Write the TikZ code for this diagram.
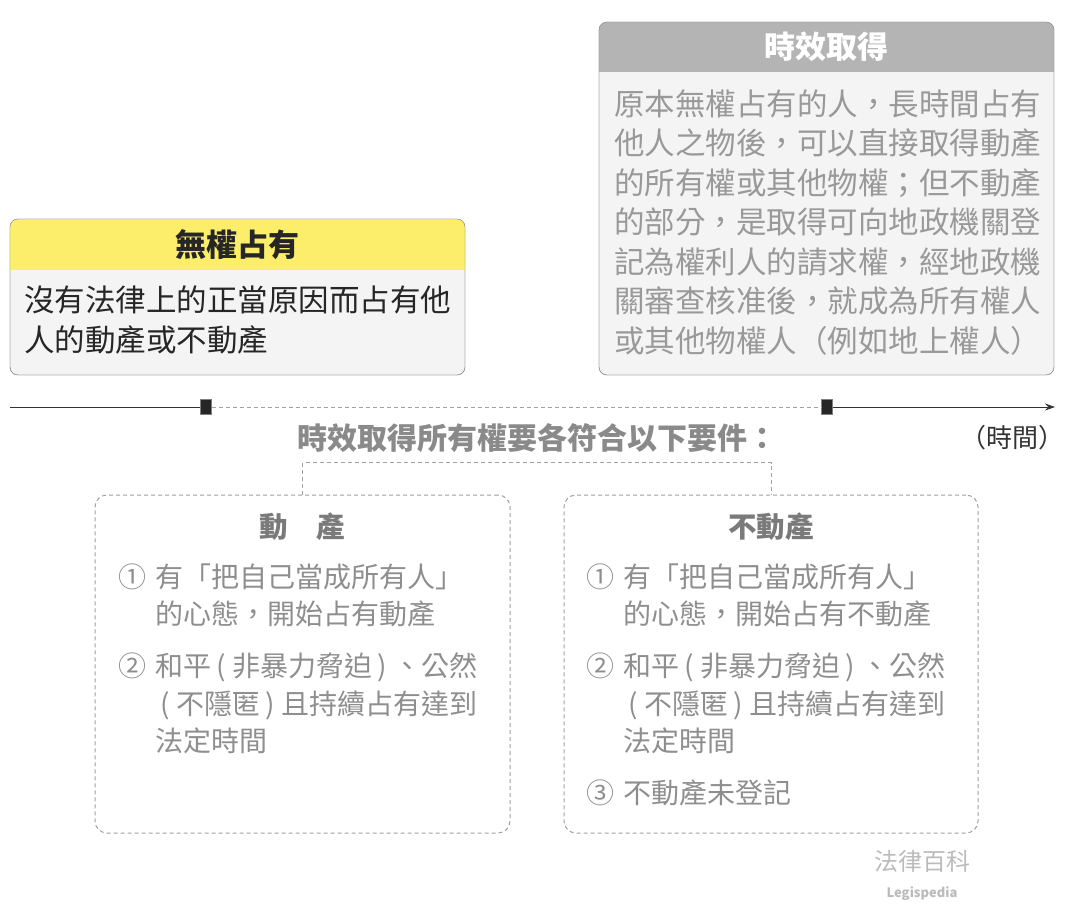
\documentclass[tikz,border=0pt]{standalone}
\usepackage{fontspec}
\setmainfont{Noto Sans CJK TC}
\usepackage{xcolor}
\usepackage{tikz}
\usetikzlibrary{positioning, arrows.meta}

\definecolor{hdyellow}{HTML}{FCEE6A}
\definecolor{hdgray}{HTML}{B4B4B4}
\definecolor{boxbg}{HTML}{F4F4F4}
\definecolor{boxline}{HTML}{8C8C8C}
\definecolor{dline}{HTML}{A0A0A0}
\definecolor{bodygray}{HTML}{999999}
\definecolor{itemgray}{HTML}{8E8E8E}
\definecolor{ttlgray}{HTML}{7A7A7A}
\definecolor{subgray}{HTML}{8A8A8A}
\definecolor{logogray}{HTML}{BBBBBB}

\newcommand{\po}{\makebox[21pt]{(}}
\newcommand{\pc}{\makebox[21pt]{)}}

\begin{document}
\begin{tikzpicture}[x=1pt,y=-1pt,
  box/.style={draw=boxline, fill=boxbg, rounded corners=8pt, inner sep=0pt, outer sep=0pt},
  dbox/.style={draw=dline, line width=1pt, dash pattern=on 4pt off 3pt, rounded corners=12pt, inner sep=0pt},
  hd/.style={font=\fontsize{31}{36}\selectfont\bfseries},
  body/.style={font=\fontsize{30.5}{39.5}\selectfont, align=left, anchor=west, inner sep=0pt},
  item/.style={font=\fontsize{28}{37.5}\selectfont, align=left, anchor=west, inner sep=0pt, text=itemgray},
  ttl/.style={font=\fontsize{28.5}{34}\selectfont\bfseries, text=ttlgray},
  tick/.style={draw=gray, fill=black!85, minimum width=11pt, minimum height=15pt, inner sep=0pt},
  tl/.style={draw=black!80, line width=1pt},
  dl/.style={draw=dline, line width=1pt, dash pattern=on 4pt off 3pt}]

\useasboundingbox (0,0) rectangle (1065,911);

\node[box, minimum width=455pt, minimum height=156pt] (wq) at (237.5,297) {};
\begin{scope}
\clip[rounded corners=8pt] (wq.south west) rectangle (wq.north east);
\fill[hdyellow] (wq.north west) rectangle ([yshift=-51pt]wq.north east);
\end{scope}
\draw[boxline, rounded corners=8pt] (wq.south west) rectangle (wq.north east);
\node[hd, text=black!85] (wqh) at ([yshift=-25.5pt]wq.north) {無權占有};
\node[body, text=black!85] (wqb) at (24,320) {沒有法律上的正當原因而占有他\\人的動產或不動產};

\node[box, minimum width=455pt, minimum height=353pt] (sx) at (826.5,198.5) {};
\begin{scope}
\clip[rounded corners=8pt] (sx.south west) rectangle (sx.north east);
\fill[hdgray] (sx.north west) rectangle ([yshift=-50pt]sx.north east);
\end{scope}
\draw[boxline, rounded corners=8pt] (sx.south west) rectangle (sx.north east);
\node[hd, text=white] (sxh) at ([yshift=-25pt]sx.north) {時效取得};
\node[body, text=bodygray] (sxb) at (614,222.5) {原本無權占有的人，長時間占有\\他人之物後，可以直接取得動產\\的所有權或其他物權；但不動產\\的部分，是取得可向地政機關登\\記為權利人的請求權，經地政機\\關審查核准後，就成為所有權人\\或其他物權人（例如地上權人）};

\coordinate (t0) at (10,407);
\coordinate (t1) at (1055,407);
\node[tick] (m1) at (206,407) {};
\node[tick] (m2) at (827,407) {};
\draw[tl] (t0) -- (m1);
\draw[dl] (m1) -- (m2);
\draw[tl, -{Stealth[length=10pt,width=7pt]}] (m2) -- (t1);

\node[font=\fontsize{30}{36}\selectfont\bfseries, text=subgray] (req) at (537,438) {時效取得所有權要各符合以下要件：};
\node[font=\fontsize{26}{30}\selectfont, text=black!80, anchor=east, inner sep=0pt] (tm) at (1065,438) {（時間）};

\node[dbox, minimum width=415pt, minimum height=338pt] (mv) at (302.5,664) {};
\node[dbox, minimum width=414pt, minimum height=338pt] (imv) at (771,664) {};
\draw[dl] (mv.north) -- ++(0,-32) -| (imv.north);

\node[ttl] (mvt) at (302.5,527) {動　產};
\node[ttl] (imvt) at (771,527) {不動產};
\node[item] (mvi) at (118,659) {①\hspace{9pt}有「把自己當成所有人」\\\hphantom{①}\hspace{9pt}的心態，開始占有動產\\[14.5pt]②\hspace{9pt}和平\po 非暴力脅迫\pc、公然\\\hphantom{②}\hspace{9pt}\po 不隱匿\pc 且持續占有達到\\\hphantom{②}\hspace{9pt}法定時間};
\node[item] (imvi) at (586,685) {①\hspace{9pt}有「把自己當成所有人」\\\hphantom{①}\hspace{9pt}的心態，開始占有不動產\\[14.5pt]②\hspace{9pt}和平\po 非暴力脅迫\pc、公然\\\hphantom{②}\hspace{9pt}\po 不隱匿\pc 且持續占有達到\\\hphantom{②}\hspace{9pt}法定時間\\[14.5pt]③\hspace{9pt}不動產未登記};

\node[font=\fontsize{24}{28}\selectfont, text=logogray] (lg) at (922,861) {法律百科};
\node[font=\fontsize{13}{15}\selectfont\bfseries, text=logogray, below=8pt of lg] (lgs) {Legispedia};
\end{tikzpicture}
\end{document}
